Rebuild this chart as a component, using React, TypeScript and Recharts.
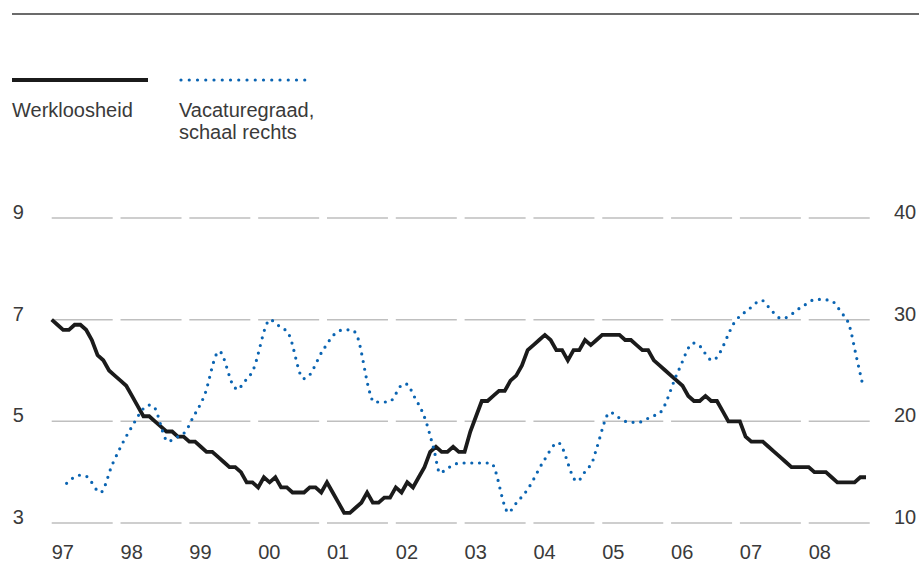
import { ComposedChart, Line, XAxis, YAxis, CartesianGrid } from 'recharts'

// x = months since Jan 1997
const yearLabels = ['97', '98', '99', '00', '01', '02', '03', '04', '05', '06', '07', '08']

// werkloosheid (%), monthly, left scale
const unemployment = [
  7.0, 6.9, 6.8, 6.8, 6.9, 6.9, 6.8, 6.6, 6.3, 6.2, 6.0, 5.9,
  5.8, 5.7, 5.5, 5.3, 5.1, 5.1, 5.0, 4.9, 4.8, 4.8, 4.7, 4.7,
  4.6, 4.6, 4.5, 4.4, 4.4, 4.3, 4.2, 4.1, 4.1, 4.0, 3.8, 3.8,
  3.7, 3.9, 3.8, 3.9, 3.7, 3.7, 3.6, 3.6, 3.6, 3.7, 3.7, 3.6,
  3.8, 3.6, 3.4, 3.2, 3.2, 3.3, 3.4, 3.6, 3.4, 3.4, 3.5, 3.5,
  3.7, 3.6, 3.8, 3.7, 3.9, 4.1, 4.4, 4.5, 4.4, 4.4, 4.5, 4.4,
  4.4, 4.8, 5.1, 5.4, 5.4, 5.5, 5.6, 5.6, 5.8, 5.9, 6.1, 6.4,
  6.5, 6.6, 6.7, 6.6, 6.4, 6.4, 6.2, 6.4, 6.4, 6.6, 6.5, 6.6,
  6.7, 6.7, 6.7, 6.7, 6.6, 6.6, 6.5, 6.4, 6.4, 6.2, 6.1, 6.0,
  5.9, 5.8, 5.7, 5.5, 5.4, 5.4, 5.5, 5.4, 5.4, 5.2, 5.0, 5.0,
  5.0, 4.7, 4.6, 4.6, 4.6, 4.5, 4.4, 4.3, 4.2, 4.1, 4.1, 4.1,
  4.1, 4.0, 4.0, 4.0, 3.9, 3.8, 3.8, 3.8, 3.8, 3.9, 3.9,
]

// vacaturegraad, right scale
const vacancyMonth = [
  2.6, 4.9, 6.0, 8.5, 10.6, 13.7, 17.0, 17.7, 20.3, 21.3, 23.5, 24.1, 26.6, 29.2,
  31.8, 32.5, 33.3, 35.0, 38.1, 39.3, 40.5, 41.3, 43.9, 44.5, 47.3, 49.8, 51.0, 52.3,
  53.1, 55.6, 56.1, 58.8, 61.4, 62.2, 62.8, 65.2, 66.7, 67.7, 68.8, 71.2, 76.6, 79.7,
  80.5, 83.1, 85.8, 88.3, 91.6, 93.3, 94.2, 95.0, 97.4, 98.5, 100.8, 102.2, 104.7,
  106.0, 109.3, 111.9, 112.6, 115.2, 119.4, 121.5, 123.8, 125.5, 127.3, 130.9, 133.3,
  135.8, 137.7, 139.1, 140.3, 141.5,
]
const vacancyRate = [
  13.9, 14.7, 14.6, 13.0, 15.8, 19.2, 21.6, 21.5, 18.0, 18.3, 19.1, 19.8, 22.5, 26.9,
  23.4, 23.1, 23.7, 24.9, 30.0, 29.5, 29.1, 28.6, 24.2, 24.3, 27.0, 28.8, 29.0, 29.0,
  28.6, 22.6, 21.9, 21.9, 23.7, 23.6, 22.9, 20.1, 17.1, 14.9, 15.3, 15.9, 15.9, 11.0,
  11.6, 13.4, 16.1, 17.9, 14.1, 15.3, 15.9, 17.3, 20.9, 20.5, 19.9, 19.9, 20.5,
  20.8, 25.0, 27.7, 27.6, 26.0, 30.0, 31.0, 31.9, 30.9, 30.1, 31.3, 32.0,
  31.9, 30.7, 29.4, 26.4, 23.4,
]

const leftTicks = [3, 5, 7, 9]
const rightTicks = [10, 20, 30, 40]

const FONT = '"Liberation Sans", Arial, sans-serif'
const TEXT = '#3a3a3a'
const BLACK = '#1b1b1b'
const BLUE = '#0a64b2'

const unemploymentData = unemployment.map((v, i) => ({ m: i, u: v }))
const vacancyData = vacancyMonth.map((m, i) => ({ m, r: vacancyRate[i] }))
const yearTicks = yearLabels.map((_, i) => i * 12)

function YearTick(props: any) {
  const { x, y, payload } = props
  return (
    <text x={x} y={y + 36} textAnchor="start" fontFamily={FONT} fontSize={20} fill={TEXT}>
      {yearLabels[Math.round(payload.value / 12)]}
    </text>
  )
}

function LeftTick(props: any) {
  const { x, y, payload } = props
  return (
    <text x={x - 39} y={y + 1} textAnchor="start" fontFamily={FONT} fontSize={20} fill={TEXT}>
      {payload.value}
    </text>
  )
}

function RightTick(props: any) {
  const { x, y, payload } = props
  return (
    <text x={x + 16.5} y={y + 1} textAnchor="start" fontFamily={FONT} fontSize={20} fill={TEXT}>
      {payload.value}
    </text>
  )
}

export default function App() {
  return (
    <div style={{ position: 'absolute', left: 0, top: 0, width: 919, height: 583, background: '#fff' }}>
      <ComposedChart width={919} height={583} margin={{ top: 218, right: 0, bottom: 0, left: 0 }}>
        <CartesianGrid
          yAxisId="left"
          vertical={false}
          stroke="#bfbfbf"
          strokeWidth={1.5}
          strokeDasharray="61 7.82"
        />
        <XAxis
          type="number"
          dataKey="m"
          domain={[0, 144]}
          ticks={yearTicks}
          interval={0}
          height={60}
          axisLine={false}
          tickLine={false}
          tickSize={0}
          tickMargin={0}
          tick={<YearTick />}
        />
        <YAxis
          yAxisId="left"
          domain={[3, 9]}
          ticks={leftTicks}
          interval={0}
          width={51.7}
          axisLine={false}
          tickLine={false}
          tickSize={0}
          tickMargin={0}
          tick={<LeftTick />}
        />
        <YAxis
          yAxisId="right"
          orientation="right"
          domain={[10, 40]}
          ticks={rightTicks}
          interval={0}
          width={41.5}
          axisLine={false}
          tickLine={false}
          tickSize={0}
          tickMargin={0}
          tick={<RightTick />}
        />
        <Line
          yAxisId="left"
          data={unemploymentData}
          dataKey="u"
          type="linear"
          stroke={BLACK}
          strokeWidth={3.8}
          dot={false}
          isAnimationActive={false}
        />
        <Line
          yAxisId="right"
          data={vacancyData}
          dataKey="r"
          type="monotoneX"
          stroke={BLUE}
          strokeWidth={3.2}
          strokeDasharray="0 7.7"
          strokeLinecap="round"
          dot={false}
          isAnimationActive={false}
        />
      </ComposedChart>

      {/* header rule and legend */}
      <svg
        width={919}
        height={583}
        style={{ position: 'absolute', left: 0, top: 0, pointerEvents: 'none' }}
      >
        <line x1={12} x2={919} y1={14} y2={14} stroke="#3a3a3a" strokeWidth={1.4} />
        <line x1={12} x2={148} y1={80} y2={80} stroke={BLACK} strokeWidth={3.8} />
        <line
          x1={181}
          x2={313}
          y1={80}
          y2={80}
          stroke={BLUE}
          strokeWidth={3.2}
          strokeDasharray="0 8.25"
          strokeLinecap="round"
        />
        <text x={12} y={116.5} fontFamily={FONT} fontSize={20} fill={TEXT}>
          Werkloosheid
        </text>
        <text x={179} y={116.5} fontFamily={FONT} fontSize={20} fill={TEXT}>
          Vacaturegraad,
        </text>
        <text x={179} y={138.5} fontFamily={FONT} fontSize={20} fill={TEXT}>
          schaal rechts
        </text>
      </svg>
    </div>
  )
}
